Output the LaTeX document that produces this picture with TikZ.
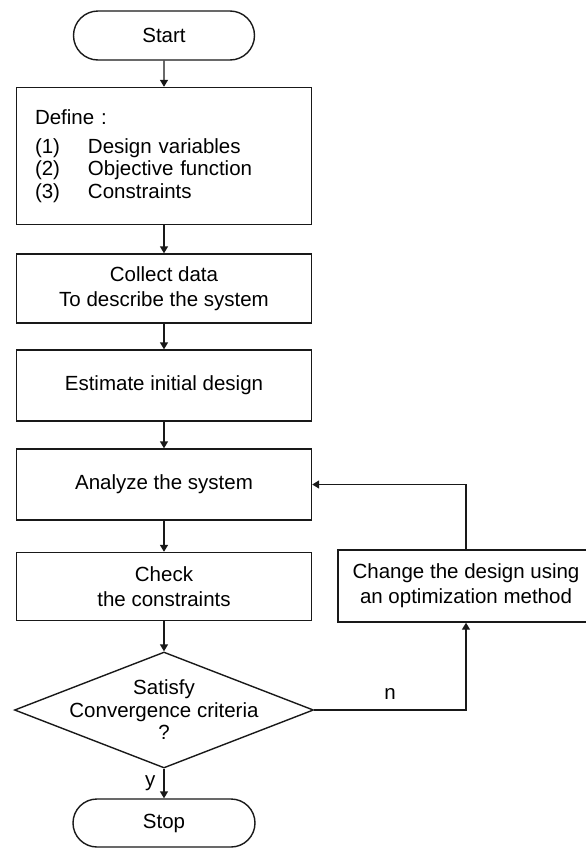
\documentclass[tikz,border=0pt]{standalone}
\usepackage{fontspec}
\setmainfont{Liberation Sans}
\usetikzlibrary{arrows.meta,shapes.geometric,shapes.misc}
\begin{document}
\begin{tikzpicture}[x=1pt,y=-1pt,
  every node/.style={font=\fontsize{20.5}{25}\selectfont, text=black},
  box/.style={draw=black!90, line width=1.4pt, rectangle, inner sep=0pt, align=center},
  term/.style={draw=black!90, line width=1.4pt, rounded rectangle, inner sep=0pt},
  decision/.style={draw=black!90, line width=1.4pt, diamond, inner sep=0pt},
  arr/.style={draw=black!90, line width=1.4pt, -{Triangle[length=7pt,width=8pt]}},
  lbl/.style={inner sep=0pt}]
\clip (0,0) rectangle (586,849);
\useasboundingbox (0,0) rectangle (586,849);

\node[term, minimum width=181pt, minimum height=49pt] (start) at (164,35.5) {Start};
\node[box, minimum width=295pt, minimum height=137pt, text width=258pt, align=left,
      font=\fontsize{20.5}{22.5}\selectfont] (define) at (164,156)
  {Define :\\[6pt]
   \makebox[53pt][l]{(1)}Design variables\\
   \makebox[53pt][l]{(2)}Objective function\\
   \makebox[53pt][l]{(3)}Constraints};
\node[box, minimum width=295pt, minimum height=69pt] (collect) at (164,288.5)
  {Collect data\\To describe the system};
\node[box, minimum width=295pt, minimum height=71pt] (estimate) at (164,385.5)
  {Estimate initial design};
\node[box, minimum width=295pt, minimum height=71pt] (analyze) at (164,484.5)
  {Analyze the system};
\node[box, minimum width=295pt, minimum height=68pt] (check) at (164,586.5)
  {Check\\the constraints};
\node[box, minimum width=256pt, minimum height=72pt] (change) at (466,586)
  {Change the design using\\an optimization method};
\node[decision, minimum width=299pt, minimum height=116pt] (dec) at (164,710) {};
\node[lbl, align=center, font=\fontsize{20.5}{22.5}\selectfont] (dectext) at (dec.center)
  {Satisfy\\Convergence criteria\\?};
\node[term, minimum width=182pt, minimum height=48pt] (stop) at (164,823) {Stop};

\draw[arr] (start) -- (define);
\draw[arr] (define) -- (collect);
\draw[arr] (collect) -- (estimate);
\draw[arr] (estimate) -- (analyze);
\draw[arr] (analyze) -- (check);
\draw[arr] (check) -- (dec);
\draw[arr] (dec.south) -- (stop.north) node[midway, left=8pt, lbl] (ylab) {y};
\draw[arr] (dec.east) -| (change.south) node[pos=0.25, above=10pt, lbl] (nlab) {n};
\draw[arr] (change.north) |- (analyze.east);
\end{tikzpicture}
\end{document}
